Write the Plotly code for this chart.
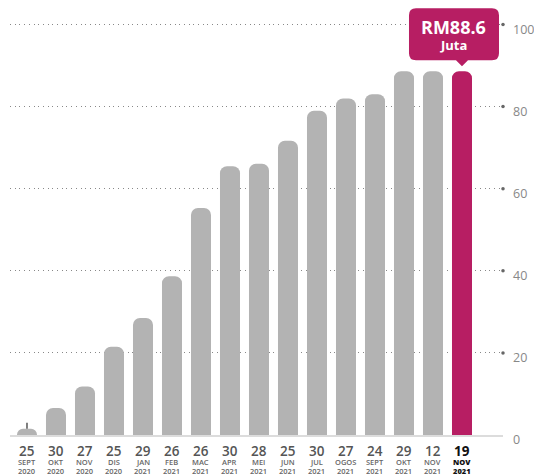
import plotly.graph_objects as go

# ---- data ----
days = ["25", "30", "27", "25", "29", "26", "26", "30", "28", "25", "30", "27", "24", "29", "12", "19"]
months = ["SEPT", "OKT", "NOV", "DIS", "JAN", "FEB", "MAC", "APR", "MEI", "JUN", "JUL", "OGOS", "SEPT", "OKT", "NOV", "NOV"]
years = ["2020", "2020", "2020", "2020", "2021", "2021", "2021", "2021", "2021", "2021", "2021", "2021", "2021", "2021", "2021", "2021"]
values = [1.5, 6.6, 11.8, 21.5, 28.5, 38.7, 55.3, 65.5, 66.1, 71.7, 79.0, 82.0, 83.0, 88.6, 88.6, 88.6]
y_ticks = [0, 20, 40, 60, 80, 100]
callout_main = "RM88.6"
callout_sub = "Juta"

GRAY = "#b3b3b3"
MAGENTA = "#b71e63"
FONT = "Open Sans"

n = len(values)
xs = list(range(n))
colors = [GRAY] * (n - 1) + [MAGENTA]
x_lo, x_hi = -0.586, n - 1 + 1.414
y_hi = 105.97

fig = go.Figure()
fig.add_trace(go.Bar(
    x=xs, y=values,
    marker=dict(color=colors, cornerradius=7, line=dict(width=0)),
    error_y=dict(type="data", symmetric=False,
                 array=[1.5] + [0] * (n - 1), arrayminus=[0] * n,
                 color="#555", thickness=1.5, width=0),
    hoverinfo="skip",
))
# dots at the end of grid lines
fig.add_trace(go.Scatter(
    x=[x_hi] * (len(y_ticks) - 1), y=y_ticks[1:], mode="markers",
    marker=dict(size=3.5, color="#666"), cliponaxis=False, hoverinfo="skip",
))

# x tick labels as annotations
for i in range(n):
    last = i == n - 1
    fig.add_annotation(x=xs[i], y=0, xref="x", yref="paper", yanchor="middle",
                       yshift=-16, showarrow=False, borderpad=0,
                       text=("<b>%s</b>" % days[i]) if last else days[i],
                       font=dict(family=FONT, size=13.5, color="#111" if last else "#555",
                                 weight=800 if last else 600))
    fig.add_annotation(x=xs[i], y=0, xref="x", yref="paper", yanchor="middle",
                       yshift=-26.5, showarrow=False, borderpad=0, text=months[i],
                       font=dict(family=FONT, size=7.5, color="#111" if last else "#666",
                                 weight=800 if last else 600))
    fig.add_annotation(x=xs[i], y=0, xref="x", yref="paper", yanchor="middle",
                       yshift=-35.5, showarrow=False, borderpad=0, text=years[i],
                       font=dict(family=FONT, size=7.5, color="#111" if last else "#666",
                                 weight=800 if last else 600))

# callout
fig.add_shape(type="path", xref="x", yref="y", xsizemode="pixel", ysizemode="pixel",
              xanchor=xs[-1], yanchor=values[-1],
              path="M -46,63 L 30,63 Q 37,63 37,56 L 37,18 Q 37,11 30,11 L 6,11 L 0,5 L -6,11 "
                   "L -46,11 Q -53,11 -53,18 L -53,56 Q -53,63 -46,63 Z",
              fillcolor=MAGENTA, line=dict(width=0), layer="above")
fig.add_annotation(x=xs[-1], y=values[-1], xref="x", yref="y", showarrow=False,
                   xshift=-8, yshift=44, text="<b>%s</b>" % callout_main,
                   font=dict(family=FONT, size=18, color="white"))
fig.add_annotation(x=xs[-1], y=values[-1], xref="x", yref="y", showarrow=False,
                   xshift=-8, yshift=26, text="<b>%s</b>" % callout_sub,
                   font=dict(family=FONT, size=13, color="white"))

fig.update_layout(
    width=534, height=475,
    margin=dict(l=10, r=31, t=0, b=40),
    paper_bgcolor="white", plot_bgcolor="white",
    showlegend=False, bargap=0.31,
    xaxis=dict(range=[x_lo, x_hi], showticklabels=False, showgrid=False, zeroline=False,
               showline=True, linecolor="#dcdcdc", linewidth=1.5, ticks="", fixedrange=True),
    yaxis=dict(range=[0, y_hi], side="right", tickvals=y_ticks, ticks="",
               showgrid=True, gridcolor="#888", gridwidth=1, griddash="1px,3.7px",
               zeroline=False, ticklabelstandoff=9, ticklabelshift=5, automargin=False,
               tickfont=dict(family=FONT, size=12.5, color="#888"), fixedrange=True),
)
fig.write_html("out.html", config={"displayModeBar": False, "staticPlot": True})

# remove the browser's default page margin so the figure sits at the top-left corner
with open("out.html", "r", encoding="utf-8") as f:
    html = f.read()
html = html.replace("<head>", "<head><style>html,body{margin:0;padding:0;overflow:hidden}</style>", 1)
with open("out.html", "w", encoding="utf-8") as f:
    f.write(html)
